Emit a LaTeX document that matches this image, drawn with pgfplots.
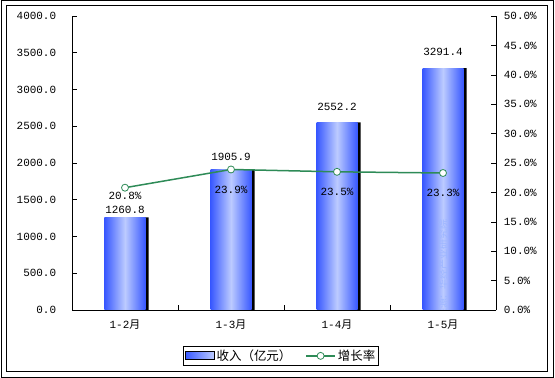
\documentclass[border=0pt]{standalone}
\usepackage{fontspec}
\setmainfont{Liberation Mono}
\newfontfamily\cjk{Noto Sans CJK SC}
\usepackage{pgfplots}
\usepackage{pgfplotstable}
\pgfplotsset{compat=1.18}
\definecolor{barblue}{HTML}{3858FF}
\definecolor{barlight}{HTML}{BCCBFF}
\definecolor{lgreen}{HTML}{2E8B57}
\definecolor{wm}{HTML}{9DB6FF}
\pgfplotsset{mylineleg/.style={legend image code/.code={\draw[mark repeat=2,mark phase=2,##1] plot coordinates {(0bp,0bp) (14.5bp,0bp) (29bp,0bp)};}},
  mybar/.style={ybar, bar width=41bp, bar shift=0bp, draw=none,
  left color=barblue, right color=barblue, middle color=barlight,
  nodes near coords={\pgfmathprintnumber[fixed,fixed zerofill,precision=1,1000 sep={}]{\pgfplotspointmeta}},
  every node near coord/.append style={anchor=center, yshift=#1, text=black, font=\fontsize{11}{13}\selectfont}},
  common/.style={scale only axis,
    width=424bp, height=294bp, xmin=-0.5, xmax=3.5,
    tick align=inside, /pgf/number format/assume math mode=true,
    tick style={black, line width=0.6bp}, axis line style={line width=0.8bp},
    major tick length=5bp, minor tick length=5bp,
    tick label style={font=\fontsize{11}{13}\selectfont}}}

\pgfplotstableread{
x y off
0 1260.8 7
1 1905.9 13
2 2552.2 16
3 3291.4 16
}\income
\pgfplotstableread{
x y off
0 20.8 8
1 23.9 20
2 23.5 20
3 23.3 20
}\growth

\begin{document}%
\fontsize{11}{13}\selectfont%
\begin{tikzpicture}
\draw[line width=1bp] (1bp,1bp) rectangle (553.5bp,377bp);
\draw[line width=1bp] (6bp,6bp) rectangle (547.5bp,372bp);
\begin{axis}[common,
  at={(72bp,68bp)}, anchor=south west,
  ymin=0, ymax=4000,
  axis x line*=bottom, axis y line*=left,
  xtick={0,1,2,3},
  xticklabels={1-2{\cjk 月},1-3{\cjk 月},1-4{\cjk 月},1-5{\cjk 月}},
  major x tick style={draw=none},
  minor xtick={0.5,1.5,2.5},
  xticklabel style={yshift=-6bp},
  ytick={0,500,...,4000},
  yticklabel style={xshift=-12bp, /pgf/number format/.cd, fixed, fixed zerofill, precision=1, 1000 sep={}},
]
\addplot[ybar, bar width=41bp, bar shift=3bp, fill=black, draw=none] table[x=x,y=y] {\income};
\addplot[mybar=7bp] coordinates {(0,1260.8)};
\addplot[mybar=13bp] coordinates {(1,1905.9)};
\addplot[mybar=16bp] coordinates {(2,2552.2)};
\addplot[mybar=16bp] coordinates {(3,3291.4)};
\node[rotate=90, text=wm, font=\cjk\fontsize{10}{10}\selectfont] at (axis cs:3,760) [xshift=-15bp] {来源：华经产业研究院};
\end{axis}
\begin{axis}[common,
  at={(72bp,68bp)}, anchor=south west,
  ymin=0, ymax=50,
  axis x line=none, axis y line*=right,
  ytick={0,5,...,50},
  yticklabel={\pgfmathprintnumber[fixed,fixed zerofill,precision=1]{\tick}\%},
  yticklabel style={xshift=4bp},
  legend style={at={(0.493,-0.156)}, anchor=center, legend columns=2, draw=black,
    line width=0.8bp, inner sep=1bp,
    font=\cjk\fontsize{12.5}{14}\selectfont,
    /tikz/every even column/.append style={column sep=12bp}},
  legend cell align=left,
]
\addlegendimage{legend image code/.code={\fill[left color=barblue,right color=barlight] (0bp,-4bp) rectangle (29bp,4bp);}}
\addlegendentry{收入（亿元）}
\addplot[lgreen, line width=1.5bp, mark=*, mark size=3.5bp,
  mark options={fill=white, draw=lgreen, line width=0.8bp},
  mylineleg,
  visualization depends on={\thisrow{off} \as \myoff},
  nodes near coords={\pgfmathprintnumber[fixed,fixed zerofill,precision=1]{\pgfplotspointmeta}\%},
  every node near coord/.append style={anchor=center, yshift=-\myoff bp, text=black, font=\fontsize{11}{13}\selectfont},
] table[x=x,y=y] {\growth};
\addlegendentry{增长率}
\end{axis}
\pgfresetboundingbox
\path[use as bounding box] (0,0) rectangle (555bp,378bp);
\end{tikzpicture}%
\end{document}
